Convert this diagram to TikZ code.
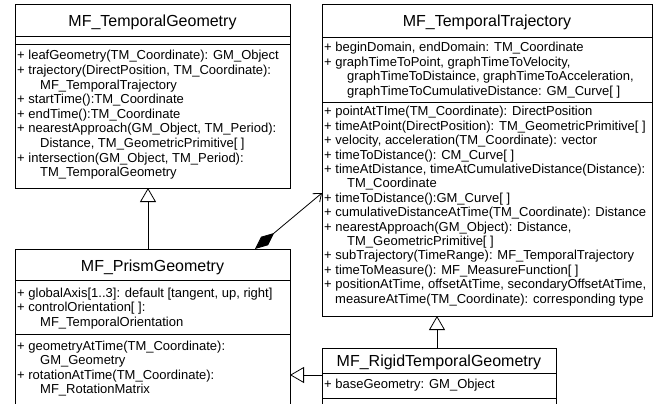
\documentclass[tikz,border=0pt]{standalone}
\usepackage{fontspec}
\setmainfont{Liberation Sans}
\usetikzlibrary{calc,arrows.meta}
\newcommand\umllines[1]{\begin{tabular}[t]{@{}l@{}}#1\end{tabular}}
\newcommand\ind{\hspace*{23pt}}
\begin{document}
\begin{tikzpicture}[x=1pt,y=-1pt,
  cls/.style={draw=black, line width=0.8pt, rectangle, anchor=north west, inner sep=0pt, outer sep=0pt},
  ttl/.style={anchor=base, inner sep=0pt, font=\fontsize{16}{19}\selectfont},
  txt/.style={anchor=base west, inner sep=0pt, font=\fontsize{13}{#1}\selectfont},
  txt/.default=14.5,
  sep/.style={draw=black, line width=0.8pt},
  gen/.style={draw=black, line width=0.8pt, -{Triangle[open, length=14pt, width=16pt]}},
  comp/.style={draw=black, line width=0.8pt, {Diamond[length=25pt, width=11pt]}-{Straight Barb[length=7pt, width=11pt]}}
]
\clip (0,0) rectangle (665,404);
\fill[white] (0,0) rectangle (665,404);

% MF_TemporalGeometry
\node[cls, minimum width=275pt, minimum height=184pt] (c1) at (15,4) {};
\node[ttl] (c1t) at ($(c1.north)+(0,22.7)$) {MF\_TemporalGeometry};
\draw[sep] ($(c1.north west)+(0,32)$) -- ($(c1.north east)+(0,32)$);
\draw[sep] ($(c1.north west)+(0,40)$) -- ($(c1.north east)+(0,40)$);
\node[txt=14.6] (c1m) at ($(c1.north west)+(2,56)$) {\umllines{%
+ leafGeometry(TM\_Coordinate): GM\_Object\\
+ trajectory(DirectPosition, TM\_Coordinate):\\
\ind MF\_TemporalTrajectory\\
+ startTime():TM\_Coordinate\\
+ endTime():TM\_Coordinate\\
+ nearestApproach(GM\_Object, TM\_Period):\\
\ind Distance, TM\_GeometricPrimitive[ ]\\
+ intersection(GM\_Object, TM\_Period):\\
\ind TM\_TemporalGeometry}};

% MF_TemporalTrajectory
\node[cls, minimum width=330pt, minimum height=312pt] (c3) at (322,4) {};
\node[ttl] (c3t) at ($(c3.north)+(0,22.7)$) {MF\_TemporalTrajectory};
\draw[sep] ($(c3.north west)+(0,33)$) -- ($(c3.north east)+(0,33)$);
\draw[sep] ($(c3.north west)+(0,98)$) -- ($(c3.north east)+(0,98)$);
\node[txt=14.5] (c3a) at ($(c3.north west)+(2,48)$) {\umllines{%
+ beginDomain, endDomain: TM\_Coordinate\\
+ graphTimeToPoint, graphTimeToVelocity,\\
\ind graphTimeToDistaince, graphTimeToAcceleration,\\
\ind graphTimeToCumulativeDistance: GM\_Curve[ ]}};
\node[txt=14.4] (c3m) at ($(c3.north west)+(2,112)$) {\umllines{%
+ pointAtTIme(TM\_Coordinate): DirectPosition\\
+ timeAtPoint(DirectPosition): TM\_GeometricPrimitive[ ]\\
+ velocity, acceleration(TM\_Coordinate): vector\\
+ timeToDistance(): CM\_Curve[ ]\\
+ timeAtDistance, timeAtCumulativeDistance(Distance):\\
\ind TM\_Coordinate\\
+ timeToDistance():GM\_Curve[ ]\\
+ cumulativeDistanceAtTime(TM\_Coordinate): Distance\\
+ nearestApproach(GM\_Object): Distance,\\
\ind TM\_GeometricPrimitive[ ]\\
+ subTrajectory(TimeRange): MF\_TemporalTrajectory\\
+ timeToMeasure(): MF\_MeasureFunction[ ]\\
+ positionAtTime, offsetAtTime, secondaryOffsetAtTime,\\
\hspace*{11pt}measureAtTime(TM\_Coordinate): corresponding type}};

% MF_PrismGeometry
\node[cls, minimum width=275pt, minimum height=200pt] (c2) at (15,249) {};
\node[ttl] (c2t) at ($(c2.north)+(0,22.7)$) {MF\_PrismGeometry};
\draw[sep] ($(c2.north west)+(0,31)$) -- ($(c2.north east)+(0,31)$);
\draw[sep] ($(c2.north west)+(0,85)$) -- ($(c2.north east)+(0,85)$);
\node[txt=14.5] (c2a) at ($(c2.north west)+(2,48)$) {\umllines{%
+ globalAxis[1..3]: default [tangent, up, right]\\
+ controlOrientation[ ]:\\
\ind MF\_TemporalOrientation}};
\node[txt=14.5] (c2m) at ($(c2.north west)+(2,101)$) {\umllines{%
+ geometryAtTime(TM\_Coordinate):\\
\ind GM\_Geometry\\
+ rotationAtTime(TM\_Coordinate):\\
\ind MF\_RotationMatrix}};

% MF_RigidTemporalGeometry
\node[cls, minimum width=234pt, minimum height=100pt] (c4) at (322,348) {};
\node[ttl] (c4t) at ($(c4.north)+(0,18.7)$) {MF\_RigidTemporalGeometry};
\draw[sep] ($(c4.north west)+(0,25)$) -- ($(c4.north east)+(0,25)$);
\draw[sep] ($(c4.north west)+(0,50)$) -- ($(c4.north east)+(0,50)$);
\node[txt=14.5] (c4a) at ($(c4.north west)+(2,40.5)$) {\umllines{%
+ baseGeometry: GM\_Object}};

% connectors
\draw[gen] ($(c2.north west)+(133,0)$) -- ($(c1.south west)+(133,0)$);
\draw[gen] ($(c4.north west)+(115,0)$) -- ($(c3.south west)+(115,0)$);
\draw[gen] ($(c4.north west)+(0,27)$) -- ($(c2.north east)+(0,126)$);
\draw[comp] ($(c2.north west)+(240,0)$) -- ($(c3.north west)+(0,189)$);
\end{tikzpicture}
\end{document}
